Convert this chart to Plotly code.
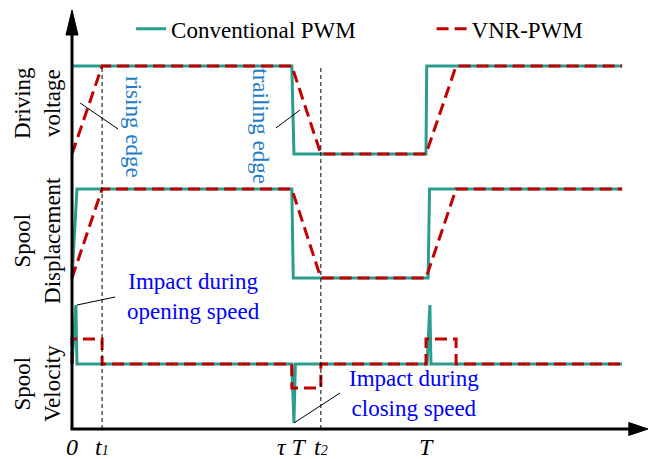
import plotly.graph_objects as go

# ---------------- data (time normalised to period T = 1) ----------------
tick_vals = [0.0, 0.085, 0.621, 0.703, 1.0]
tick_labels = ["0", "t<span style='font-size:14px'>1</span>", "τ T",
               "t<span style='font-size:14px'>2</span>", "T"]
guide_times = [0.085, 0.703]

# Driving voltage
conv_volt_t = [0.0, 0.621, 0.627, 1.0, 1.002, 1.554]
conv_volt_v = [3.63, 3.63, 2.75, 2.75, 3.63, 3.63]
vnr_volt_t = [0.0, 0.085, 0.621, 0.703, 1.0, 1.085, 1.554]
vnr_volt_v = [2.75, 3.63, 3.63, 2.75, 2.75, 3.63, 3.63]

# Spool displacement
conv_disp_t = [0.0, 0.014, 0.621, 0.625, 1.006, 1.010, 1.554]
conv_disp_v = [1.51, 2.40, 2.40, 1.51, 1.51, 2.40, 2.40]
vnr_disp_t = [0.0, 0.085, 0.621, 0.703, 1.0, 1.085, 1.554]
vnr_disp_v = [1.51, 2.40, 2.40, 1.51, 1.51, 2.40, 2.40]

# Spool velocity
conv_vel_t = [0.0, 0.011, 0.014, 0.621, 0.627, 0.631, 1.003, 1.011, 1.014, 1.554]
conv_vel_v = [0.65, 1.24, 0.65, 0.65, 0.06, 0.65, 0.65, 1.24, 0.65, 0.65]
vnr_vel_t = [0.0, 0.0, 0.085, 0.085, 0.621, 0.621, 0.703, 0.703, 1.0, 1.0, 1.085, 1.085, 1.554]
vnr_vel_v = [0.65, 0.90, 0.90, 0.65, 0.65, 0.41, 0.41, 0.65, 0.65, 0.90, 0.90, 0.65, 0.65]

row_labels = ["Driving<br>voltage", "Spool<br>Displacement", "Spool<br>Velocity"]
row_label_y = [3.26, 1.89, 0.46]

# annotations: (text, x, y, angle, colour)
notes = [
    ("rising edge", 0.175, 3.02, 90, "#1f7cc4"),
    ("trailing edge", 0.533, 3.03, 90, "#1f7cc4"),
    ("Impact during<br>opening speed", 0.342, 1.33, 0, "#0000ff"),
    ("Impact during<br>closing speed", 0.966, 0.36, 0, "#0000ff"),
]
# leader lines: (x0, y0, x1, y1)
leaders = [
    (0.023, 3.26, 0.130, 3.00),
    (0.576, 3.01, 0.644, 3.19),
    (0.014, 1.24, 0.122, 1.32),
    (0.627, 0.06, 0.757, 0.36),
]

GREEN = "#2a9d8f"
RED = "#c00000"
FONT = "Liberation Serif"

fig = go.Figure()

series = [
    (conv_volt_t, conv_volt_v, vnr_volt_t, vnr_volt_v),
    (conv_disp_t, conv_disp_v, vnr_disp_t, vnr_disp_v),
    (conv_vel_t, conv_vel_v, vnr_vel_t, vnr_vel_v),
]
for i, (ct, cv, vt, vv) in enumerate(series):
    fig.add_trace(go.Scatter(x=ct, y=cv, mode="lines", name="Conventional PWM",
                             line=dict(color=GREEN, width=3), legendgroup="c",
                             showlegend=(i == 0), legend="legend"))
for i, (ct, cv, vt, vv) in enumerate(series):
    fig.add_trace(go.Scatter(x=vt, y=vv, mode="lines", name="VNR-PWM",
                             line=dict(color=RED, width=3, dash="12px,6px"),
                             legendgroup="v", showlegend=(i == 0), legend="legend2"))

shapes = []
# guides
for g in guide_times:
    shapes.append(dict(type="line", xref="x", yref="y", x0=g, x1=g, y0=0, y1=max(conv_volt_v),
                       line=dict(color="black", width=1, dash="4px,3px")))
# axes
shapes.append(dict(type="line", xref="x", yref="y", x0=-0.004, x1=1.58, y0=0, y1=0,
                   line=dict(color="black", width=3)))
shapes.append(dict(type="line", xref="x", yref="y", x0=0, x1=0, y0=0, y1=3.96,
                   line=dict(color="black", width=3)))
# arrow heads
shapes.append(dict(type="path", xref="x", yref="y",
                   path="M 1.573 0.065 L 1.627 0 L 1.573 -0.065 Z",
                   fillcolor="black", line=dict(color="black", width=1)))
shapes.append(dict(type="path", xref="x", yref="y",
                   path="M -0.017 3.94 L 0 4.19 L 0.017 3.94 Z",
                   fillcolor="black", line=dict(color="black", width=1)))
for (x0, y0, x1, y1) in leaders:
    shapes.append(dict(type="line", xref="x", yref="y", x0=x0, y0=y0, x1=x1, y1=y1,
                       line=dict(color="black", width=1)))

annotations = []
for txt, x, y, ang, col in notes:
    annotations.append(dict(text=txt, x=x, y=y, xref="x", yref="y", showarrow=False,
                            textangle=ang, font=dict(family=FONT, size=23, color=col),
                            xanchor="center", yanchor="middle"))
for txt, y in zip(row_labels, row_label_y):
    annotations.append(dict(text=txt, x=-0.099, y=y, xref="x", yref="y", showarrow=False,
                            textangle=-90, font=dict(family=FONT, size=23, color="black"),
                            xanchor="center", yanchor="middle"))
for v, txt in zip(tick_vals, tick_labels):
    annotations.append(dict(text="<i>" + txt + "</i>", x=v, y=0, xref="x", yref="y",
                            showarrow=False, yshift=-18,
                            font=dict(family=FONT, size=24, color="black"),
                            xanchor="center", yanchor="middle"))

fig.update_layout(
    width=649, height=459,
    margin=dict(l=0, r=0, t=0, b=0),
    paper_bgcolor="white", plot_bgcolor="white",
    xaxis=dict(range=[-72 / 354, 577 / 354], visible=False, fixedrange=True),
    yaxis=dict(range=[-0.30, 4.29], visible=False, fixedrange=True),
    shapes=shapes, annotations=annotations,
    legend=dict(x=0.202, y=0.937, xanchor="left", yanchor="middle", orientation="h",
                font=dict(family=FONT, size=23, color="black"), bgcolor="rgba(0,0,0,0)"),
    legend2=dict(x=0.665, y=0.937, xanchor="left", yanchor="middle", orientation="h",
                 font=dict(family=FONT, size=23, color="black"), bgcolor="rgba(0,0,0,0)"),
)

fig.write_html("out.html")
